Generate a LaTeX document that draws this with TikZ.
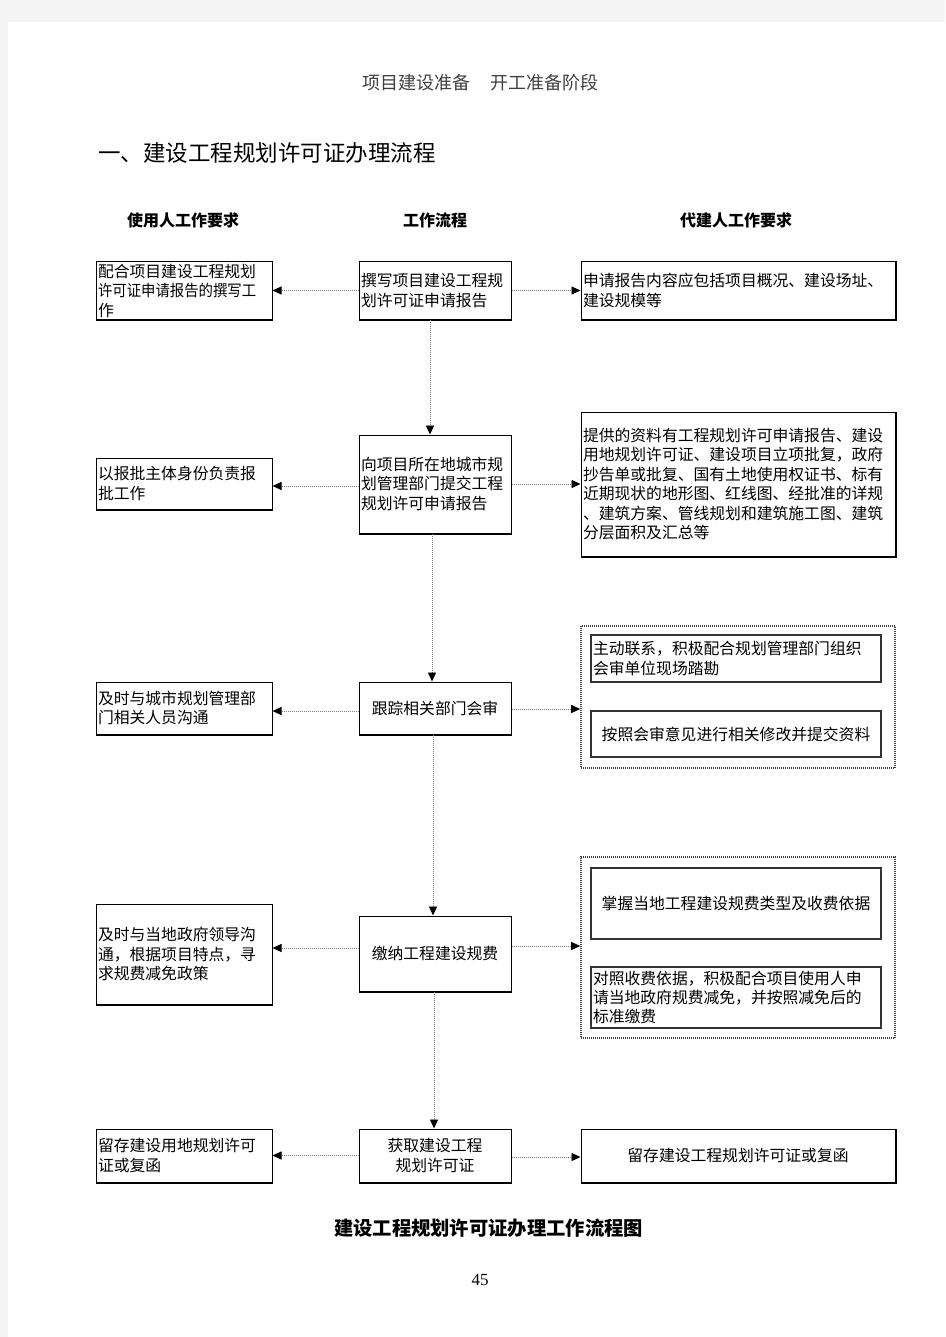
\documentclass[tikz,border=0pt]{standalone}
\usepackage{fontspec}
\newfontfamily\cjk{Noto Sans CJK SC}
\newfontfamily\numfont{Liberation Serif}
\usetikzlibrary{arrows.meta}
\definecolor{pagegray}{HTML}{F4F4F4}
\definecolor{linegray}{HTML}{808080}
\tikzset{
  txt/.style={font=\cjk\fontsize{15.8}{19.5}\selectfont, inner xsep=2pt, inner ysep=0pt},
  box/.style={txt, draw=black, line width=1pt},
  inbox/.style={txt, draw=black!80, line width=1.4pt},
  grp/.style={draw=black!75, line width=1.6pt, dash pattern=on 1pt off 1pt, inner sep=0pt},
  flow/.style={draw=linegray, line width=0.9pt, dash pattern=on 1pt off 1pt,
    -{Triangle[length=9pt,width=8pt,color=black]}},
  shadowline/.style={line width=2pt, draw=black}
}
\begin{document}
\begin{tikzpicture}[x=1pt,y=-1pt]
\fill[pagegray] (0,0) rectangle (945,1337);
\fill[white] (8,22) rectangle (945,1337);
\useasboundingbox (0,0) rectangle (945,1337);

% headings
\node[font=\cjk\fontsize{18}{20}\selectfont, text=black!75] (hdr) at (480,83) {项目建设准备\hspace{20pt}开工准备阶段};
\node[font=\cjk\fontsize{22.5}{24}\selectfont, anchor=west, inner sep=0pt] (ttl) at (98,153) {一、建设工程规划许可证办理流程};
\node[font=\cjk\bfseries\fontsize{16}{18}\selectfont] (h1) at (183,220) {使用人工作要求};
\node[font=\cjk\bfseries\fontsize{16}{18}\selectfont] (h2) at (435,220) {工作流程};
\node[font=\cjk\bfseries\fontsize{16}{18}\selectfont] (h3) at (736,220) {代建人工作要求};

% row 1
\node[box, minimum width=176, minimum height=57, text width=172, align=left] (l1) at (184,290.5) {配合项目建设工程规划\\\scalebox{0.91}[1]{许可证申请报告的撰写工}\\作};
\node[box, minimum width=152, minimum height=57, text width=148, align=left] (c1) at (435,290.5) {撰写项目建设工程规\\划许可证申请报告};
\node[box, minimum width=314, minimum height=57, text width=310, align=left] (r1) at (738,290.5) {申请报告内容应包括项目概况、建设场址、\\建设规模等};

% row 2
\node[box, minimum width=176, minimum height=51, text width=172, align=left] (l2) at (184,483.5) {以报批主体身份负责报\\批工作};
\node[box, minimum width=152, minimum height=98, text width=148, align=left] (c2) at (435,484) {向项目所在地城市规\\划管理部门提交工程\\规划许可申请报告};
\node[box, minimum width=314, minimum height=144, text width=310, align=left] (r2) at (738,484) {提供的资料有工程规划许可申请报告、建设\\用地规划许可证、建设项目立项批复，政府\\抄告单或批复、国有土地使用权证书、标有\\近期现状的地形图、红线图、经批准的详规\\、建筑方案、管线规划和建筑施工图、建筑\\分层面积及汇总等};

% row 3
\node[box, minimum width=176, minimum height=52, text width=172, align=left] (l3) at (184,708) {及时与城市规划管理部\\门相关人员沟通};
\node[box, minimum width=152, minimum height=52, align=center] (c3) at (435,708) {跟踪相关部门会审};
\node[grp, minimum width=314, minimum height=142] (r3) at (738,697) {};
\node[inbox, minimum width=290, minimum height=47, text width=286, align=left] (r3a) at (736,658.5) {主动联系，积极配合规划管理部门组织\\会审单位现场踏勘};
\node[inbox, minimum width=290, minimum height=46, align=center] (r3b) at (736,734) {按照会审意见进行相关修改并提交资料};

% row 4
\node[box, minimum width=176, minimum height=100, text width=172, align=left] (l4) at (184,954) {及时与当地政府领导沟\\通，根据项目特点，寻\\求规费减免政策};
\node[box, minimum width=152, minimum height=75, align=center] (c4) at (435,953.5) {缴纳工程建设规费};
\node[grp, minimum width=314, minimum height=181] (r4) at (738,947.5) {};
\node[inbox, minimum width=290, minimum height=71, align=center] (r4a) at (736,903.5) {掌握当地工程建设规费类型及收费依据};
\node[inbox, minimum width=290, minimum height=61, text width=286, align=left, font=\cjk\fontsize{15.8}{19}\selectfont] (r4b) at (736,997.5) {对照收费依据，积极配合项目使用人申\\请当地政府规费减免，并按照减免后的\\标准缴费};

% row 5
\node[box, minimum width=176, minimum height=53, text width=172, align=left] (l5) at (184,1155.5) {留存建设用地规划许可\\证或复函};
\node[box, minimum width=152, minimum height=53, align=center] (c5) at (435,1155.5) {获取建设工程\\规划许可证};
\node[box, minimum width=314, minimum height=53, align=center] (r5) at (738,1155.5) {留存建设工程规划许可证或复函};

% heavier bottom / right edges
\foreach \n in {l1,l2,l3,l4,l5,c1,c2,c3,c4,c5} {
  \draw[shadowline] (\n.south west) -- (\n.south east);
}
\foreach \n in {r1,r2,r5} {
  \draw[shadowline] (\n.south west) -- (\n.south east) -- (\n.north east);
}

% captions
\node[font=\cjk\bfseries\fontsize{19.3}{21}\selectfont] (cap) at (488.5,1228) {建设工程规划许可证办理工作流程图};
\node[font=\numfont\fontsize{17}{19}\selectfont] (pg) at (480,1280) {45};

% connectors: vertical
\draw[flow] ([xshift=-5pt]c1.south) -- ([xshift=-5pt]c2.north);
\draw[flow] ([xshift=-3pt]c2.south) -- ([xshift=-3pt]c3.north);
\draw[flow] ([xshift=-2pt]c3.south) -- ([xshift=-2pt]c4.north);
\draw[flow] ([xshift=-1pt]c4.south) -- ([xshift=-1pt]c5.north);

% connectors: to the left
\draw[flow] (c1.west) -- (c1.west -| l1.east);
\draw[flow] ([yshift=-2pt]c2.west) -- ([yshift=-2pt]c2.west -| l2.east);
\draw[flow] ([yshift=-3pt]c3.west) -- ([yshift=-3pt]c3.west -| l3.east);
\draw[flow] ([yshift=5.5pt]c4.west) -- ([yshift=5.5pt]c4.west -| l4.east);
\draw[flow] (c5.west) -- (c5.west -| l5.east);

% connectors: to the right
\draw[flow] (c1.east) -- (c1.east -| r1.west);
\draw[flow] (c2.east) -- (c2.east -| r2.west);
\draw[flow] ([yshift=-1pt]c3.east) -- ([yshift=-1pt]c3.east -| r3.west);
\draw[flow] ([yshift=7.5pt]c4.east) -- ([yshift=7.5pt]c4.east -| r4.west);
\draw[flow] ([yshift=-1.5pt]c5.east) -- ([yshift=-1.5pt]c5.east -| r5.west);
\end{tikzpicture}
\end{document}
